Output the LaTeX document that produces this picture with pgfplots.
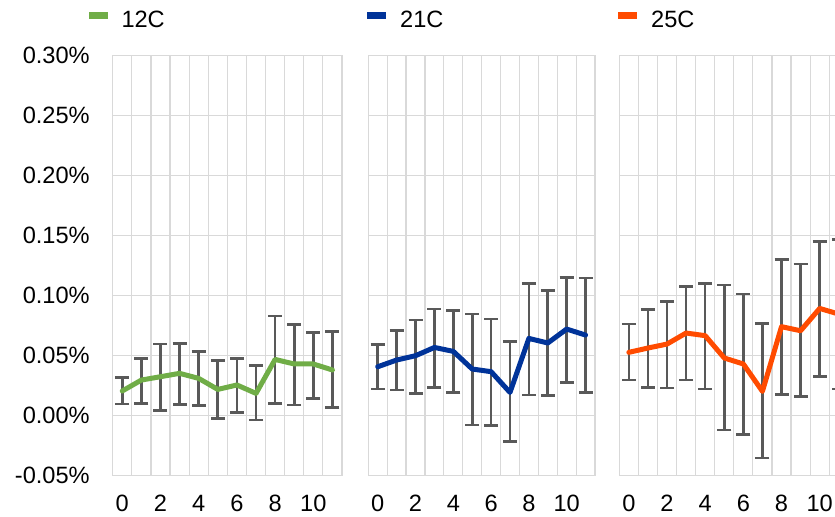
\documentclass[border=0pt]{standalone}
\usepackage{fontspec}
\setmainfont{Liberation Sans}
\usepackage{pgfplots}
\pgfplotsset{compat=1.18}
\definecolor{gridgray}{HTML}{D9D9D9}
\definecolor{bargray}{HTML}{595959}
\definecolor{cgreen}{HTML}{70AD47}
\definecolor{cblue}{HTML}{003399}
\definecolor{corange}{HTML}{FF4B00}
\pgfplotsset{
  panel/.style={
    scale only axis, height=210pt,
    xmin=-0.5, xmax=11.5, ymin=-0.05, ymax=0.30,
    xtick={0,2,4,6,8,10},
    minor xtick={-0.5,0.5,1.5,2.5,3.5,4.5,5.5,6.5,7.5,8.5,9.5,10.5,11.5},
    ytick={-0.05,0,0.05,0.10,0.15,0.20,0.25,0.30},
    xminorgrids, ymajorgrids,
    grid style={draw=gridgray, line width=0.6pt},
    minor grid style={draw=gridgray, line width=0.6pt},
    major tick length=0pt, minor tick length=0pt,
    axis line style={draw=gridgray, line width=0.6pt},
    tick label style={font=\fontsize{11.8}{14}\selectfont, inner sep=0pt},
    /pgf/number format/assume math mode=true,
    xticklabel style={yshift=-9.5pt},
    yticklabel={\pgfmathprintnumber[fixed,fixed zerofill,precision=2]{\tick}\%},
    yticklabel style={xshift=-11.3pt},
    legend style={draw=none, fill=none, inner sep=0pt, anchor=west,
      nodes={inner sep=0pt}, column sep=7pt,
      font=\fontsize{11.8}{14}\selectfont},
    legend image code/.code={\fill[#1, draw=none] (0pt,1.2pt) rectangle (9.4pt,4.4pt);},
  },
  ebars/.style={forget plot, draw=none, mark=none,
    error bars/.cd, y dir=both, y explicit,
    error bar style={draw=bargray, line width=1.3pt},
    error mark=|,
    error mark options={draw=bargray, mark size=3.5pt, line width=1.3pt}},
  serie/.style={line width=2.5pt, line join=round, line cap=round, mark=none},
}
\begin{document}
\begin{tikzpicture}
\useasboundingbox (0,0) rectangle (417.5pt,258pt);
\clip (0,0) rectangle (417.5pt,258pt);
% Panel 1: 12C
\begin{axis}[panel, width=114.65pt, at={(56.35pt,20.15pt)}, anchor=south west,
  legend style={at={(-0.1064,1.0826)}}]
\addplot[ebars] table[x=x, y=y, y error plus=ep, y error minus=em] {
x y ep em
0 0.0206 0.0111 0.0109
1 0.0297 0.0181 0.0194
2 0.0325 0.0272 0.0283
3 0.0353 0.0250 0.0259
4 0.0311 0.0222 0.0228
5 0.0219 0.0239 0.0241
6 0.0256 0.0222 0.0231
7 0.0186 0.0231 0.0222
8 0.0469 0.0362 0.0366
9 0.0431 0.0330 0.0342
10 0.0431 0.0263 0.0287
11 0.0381 0.0319 0.0312
};
\addplot[serie, color=cgreen] table[x=x, y=y] {
x y
0 0.0206
1 0.0297
2 0.0325
3 0.0353
4 0.0311
5 0.0219
6 0.0256
7 0.0186
8 0.0469
9 0.0431
10 0.0431
11 0.0381
};
\addlegendentry{12C}
\end{axis}
% Panel 2: 21C
\begin{axis}[panel, width=113.35pt, at={(184.15pt,20.15pt)}, anchor=south west,
  yticklabels={}, legend style={at={(-0.0057,1.0826)}}]
\addplot[ebars] table[x=x, y=y, y error plus=ep, y error minus=em] {
x y ep em
0 0.0408 0.0184 0.0186
1 0.0464 0.0244 0.0250
2 0.0500 0.0297 0.0314
3 0.0569 0.0320 0.0333
4 0.0536 0.0339 0.0342
5 0.0389 0.0458 0.0467
6 0.0367 0.0439 0.0450
7 0.0194 0.0425 0.0411
8 0.0644 0.0459 0.0472
9 0.0606 0.0436 0.0439
10 0.0722 0.0431 0.0444
11 0.0672 0.0475 0.0478
};
\addplot[serie, color=cblue] table[x=x, y=y] {
x y
0 0.0408
1 0.0464
2 0.0500
3 0.0569
4 0.0536
5 0.0389
6 0.0367
7 0.0194
8 0.0644
9 0.0606
10 0.0722
11 0.0672
};
\addlegendentry{21C}
\end{axis}
% Panel 3: 25C
\begin{axis}[panel, width=114.5pt, at={(309.65pt,20.15pt)}, anchor=south west,
  yticklabels={}, legend style={at={(-0.0057,1.0826)}}]
\addplot[ebars] table[x=x, y=y, y error plus=ep, y error minus=em] {
x y ep em
0 0.0528 0.0236 0.0231
1 0.0564 0.0322 0.0328
2 0.0597 0.0356 0.0366
3 0.0689 0.0386 0.0392
4 0.0667 0.0436 0.0445
5 0.0481 0.0608 0.0600
6 0.0431 0.0583 0.0589
7 0.0203 0.0566 0.0556
8 0.0742 0.0558 0.0567
9 0.0708 0.0556 0.0550
10 0.0894 0.0556 0.0569
11 0.0847 0.0620 0.0625
};
\addplot[serie, color=corange] table[x=x, y=y] {
x y
0 0.0528
1 0.0564
2 0.0597
3 0.0689
4 0.0667
5 0.0481
6 0.0431
7 0.0203
8 0.0742
9 0.0708
10 0.0894
11 0.0847
};
\addlegendentry{25C}
\end{axis}
\end{tikzpicture}
\end{document}
